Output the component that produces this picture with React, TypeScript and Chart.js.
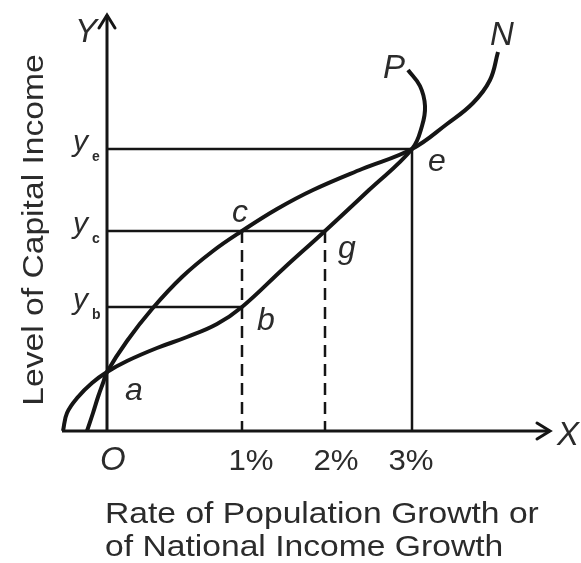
import React, { useEffect, useRef } from "react";
import { Chart, registerables } from "chart.js";

Chart.register(...registerables);

// Diagram units: x = distance right of O, y = height above the X axis
const pCurveX = [-44, -40, -29, -15, 0, 20, 50, 80, 110, 135, 176, 218, 262, 305, 315, 318, 313, 301];
const pCurveY = [0, 18, 34, 48, 59, 70, 83, 94, 107, 124, 162, 200, 241, 282, 305, 325, 345, 361];

const nCurveX = [-20, -14, -9, -4, 0, 20, 45, 75, 106, 135, 170, 206, 255, 305, 340, 366, 383, 391];
const nCurveY = [0, 18, 34, 48, 59, 90, 122, 154, 180, 200, 222, 241, 262, 282, 307, 328, 351, 379];

const curveNames = ["P", "N"];

// Named points on the curves
const pointNames = ["a", "b", "c", "g", "e"];
const pointX = [0, 135, 135, 218, 305];
const pointY = [59, 124, 200, 200, 282];

// Income levels on the Y axis
const levelNames = ["e", "c", "b"];
const levelValues = [282, 200, 124];
const levelEndX = [305, 218, 135];

// X axis ticks (growth rates)
const xTickValues = [135, 218, 305];
const xTickLabels = ["1%", "2%", "3%"];

const xAxisMin = -45;
const xAxisMax = 443;
const yAxisMax = 416;

const xTitleLines = ["Rate of Population Growth or", "of National Income Growth"];
const yTitle = "Level of Capital Income";

const INK = "#151515";
const TEXT = "#2b2b2b";

function pts(xs: number[], ys: number[]) {
  return xs.map((x, i) => ({ x, y: ys[i] }));
}

function drawText(
  ctx: CanvasRenderingContext2D,
  s: string,
  x: number,
  y: number,
  font: string,
  align: CanvasTextAlign = "left",
  sx = 1,
  rot = 0
) {
  ctx.save();
  ctx.font = font;
  ctx.textAlign = align;
  ctx.textBaseline = "alphabetic";
  ctx.fillStyle = TEXT;
  ctx.translate(x, y);
  if (rot) ctx.rotate(rot);
  ctx.scale(sx, 1);
  ctx.fillText(s, 0, 0);
  ctx.restore();
}

const diagramPlugin = {
  id: "diagram",
  afterDatasetsDraw(chart: any) {
    const ctx: CanvasRenderingContext2D = chart.ctx;
    const xs = chart.scales.x;
    const ys = chart.scales.y;
    const px = (v: number) => xs.getPixelForValue(v);
    const py = (v: number) => ys.getPixelForValue(v);

    // arrow heads
    ctx.save();
    ctx.strokeStyle = INK;
    ctx.lineWidth = 3;
    ctx.lineCap = "round";
    ctx.lineJoin = "miter";
    const ox = px(0);
    const tipY = py(yAxisMax);
    ctx.beginPath();
    ctx.moveTo(ox - 8, tipY + 13);
    ctx.lineTo(ox, tipY);
    ctx.lineTo(ox + 8, tipY + 13);
    ctx.stroke();
    const tipX = px(xAxisMax);
    const oy = py(0);
    ctx.beginPath();
    ctx.moveTo(tipX - 13, oy - 8);
    ctx.lineTo(tipX, oy);
    ctx.lineTo(tipX - 13, oy + 8);
    ctx.stroke();
    ctx.restore();

    const italic = "italic 32px 'Liberation Sans', Arial, sans-serif";
    const italicBig = "italic 33px 'Liberation Sans', Arial, sans-serif";

    // axis letters
    drawText(ctx, "Y", ox - 32, tipY + 27, italicBig);
    drawText(ctx, "X", tipX + 7, oy + 14, italicBig);
    drawText(ctx, "O", ox - 7, oy + 39, italicBig);

    // point names
    const offs = [
      [18, 28],
      [15, 23],
      [-10, -9],
      [13, 27],
      [16, 22],
    ];
    pointNames.forEach((n, i) => {
      drawText(ctx, n, px(pointX[i]) + offs[i][0], py(pointY[i]) + offs[i][1], italic);
    });

    // curve names
    const pEnd = pCurveX.length - 1;
    drawText(ctx, curveNames[0], px(pCurveX[pEnd]) - 25, py(pCurveY[pEnd]) + 8, italicBig);
    const nEnd = nCurveX.length - 1;
    drawText(ctx, curveNames[1], px(nCurveX[nEnd]) - 8, py(nCurveY[nEnd]) - 7, italicBig);

    // level labels y_e, y_c, y_b
    levelNames.forEach((n, i) => {
      const yy = py(levelValues[i]);
      drawText(ctx, "y", ox - 34, yy + 2, "italic 30px 'Liberation Sans', Arial, sans-serif");
      drawText(ctx, n, ox - 15, yy + 12, "bold 14px 'Liberation Sans', Arial, sans-serif");
    });

    // tick labels
    const tickShift = [9, 11, -1];
    xTickValues.forEach((v, i) => {
      drawText(
        ctx,
        xTickLabels[i],
        px(v) + tickShift[i],
        oy + 39,
        "30px 'Liberation Sans', Arial, sans-serif",
        "center",
        1.04
      );
    });

    // axis titles
    const titleFont = "29px 'Liberation Sans', Arial, sans-serif";
    drawText(ctx, xTitleLines[0], 105, 523, titleFont, "left", 1.16);
    drawText(ctx, xTitleLines[1], 105, 556, titleFont, "left", 1.16);
    drawText(ctx, yTitle, 43, 230, titleFont, "center", 1.16, -Math.PI / 2);
  },
};

export default function App() {
  const ref = useRef<HTMLCanvasElement | null>(null);

  useEffect(() => {
    document.body.style.margin = "0";
    const canvas = ref.current;
    if (!canvas) return;

    const guide = (data: { x: number; y: number }[], dashed = false, width = 2.5) => ({
      data,
      borderColor: INK,
      borderWidth: width,
      borderDash: dashed ? [12, 7] : [],
      pointRadius: 0,
      tension: 0,
      fill: false,
      clip: false as any,
      order: 2,
    });

    const datasets: any[] = [
      {
        label: curveNames[0],
        data: pts(pCurveX, pCurveY),
        borderColor: INK,
        borderWidth: 4,
        pointRadius: 0,
        tension: 0.4,
        fill: false,
        clip: false,
        order: 0,
      },
      {
        label: curveNames[1],
        data: pts(nCurveX, nCurveY),
        borderColor: INK,
        borderWidth: 4,
        pointRadius: 0,
        tension: 0.4,
        fill: false,
        clip: false,
        order: 0,
      },
      // axes
      guide([{ x: xAxisMin, y: 0 }, { x: xAxisMax, y: 0 }], false, 3),
      guide([{ x: 0, y: 0 }, { x: 0, y: yAxisMax }], false, 3),
      // income levels
      ...levelValues.map((v, i) => guide([{ x: 0, y: v }, { x: levelEndX[i], y: v }])),
      // 3% solid drop line from e
      guide([{ x: pointX[4], y: pointY[4] }, { x: pointX[4], y: 0 }]),
      // dashed drop lines from c and g
      guide([{ x: pointX[2], y: pointY[2] }, { x: pointX[2], y: 0 }], true),
      guide([{ x: pointX[3], y: pointY[3] }, { x: pointX[3], y: 0 }], true),
    ];

    const chart = new Chart(canvas, {
      type: "line",
      data: { datasets },
      options: {
        animation: false,
        responsive: false,
        events: [],
        layout: { padding: { left: 57, right: 24, top: 15, bottom: 132 } },
        plugins: { legend: { display: false }, tooltip: { enabled: false } },
        scales: {
          x: { type: "linear", min: -50, max: 450, display: false },
          y: { type: "linear", min: 0, max: 416, display: false },
        },
      },
      plugins: [diagramPlugin],
    });

    return () => chart.destroy();
  }, []);

  return (
    <div style={{ position: "absolute", left: 0, top: 0, width: 581, height: 563, background: "#fff" }}>
      <canvas ref={ref} width={581} height={563} style={{ display: "block" }} />
    </div>
  );
}
